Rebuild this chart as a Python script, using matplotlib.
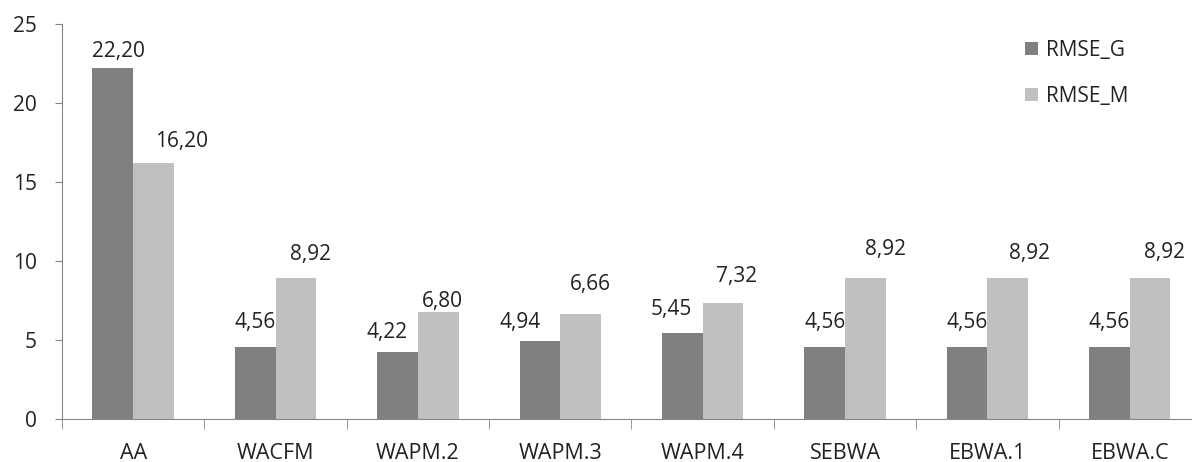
import matplotlib.pyplot as plt
import numpy as np

plt.rcParams['font.family'] = ['Open Sans', 'DejaVu Sans']

methods = ['AA', 'WACFM', 'WAPM.2', 'WAPM.3', 'WAPM.4', 'SEBWA', 'EBWA.1', 'EBWA.C']
rmse_g = [22.20, 4.56, 4.22, 4.94, 5.45, 4.56, 4.56, 4.56]
rmse_m = [16.20, 8.92, 6.80, 6.66, 7.32, 8.92, 8.92, 8.92]

# hand-placed label nudges (pixels): sideways shift and gap above bar
nudge_g = [(6, 11), (0, 19), (-11, 14), (-20, 13), (-11, 18), (0, 19), (0, 19), (0, 19)]
nudge_m = [(28, 16), (15, 18), (4, 5), (10, 24), (14, 21), (20, 23), (22, 19), (14, 20)]

fig = plt.figure(figsize=(11.92, 4.62), dpi=100)
ax = fig.add_axes([0.052, 0.093, 0.9555, 0.855])

x = np.arange(len(methods))
w = 1 / 3.5
b1 = ax.bar(x - w / 2, rmse_g, w, color='#808080', label='RMSE_G')
b2 = ax.bar(x + w / 2, rmse_m, w, color='#c0c0c0', label='RMSE_M')

def fmt(v):
    return f'{v:.2f}'.replace('.', ',')

for bars, vals, nudge in ((b1, rmse_g, nudge_g), (b2, rmse_m, nudge_m)):
    for r, v, (dx, dy) in zip(bars, vals, nudge):
        ax.annotate(fmt(v), (r.get_x() + r.get_width() / 2, v),
                    xytext=(dx, dy), textcoords='offset pixels',
                    ha='center', va='baseline', fontsize=15, color='#222222')

ax.set_xlim(-0.5, len(methods) - 0.5)
ax.set_ylim(0, 25)
ax.set_yticks(range(0, 26, 5))
ax.tick_params(axis='y', labelsize=15, length=5, color='#868686', pad=13,
               labelcolor='#222222')
ax.set_xticks(x)
ax.set_xticklabels(methods)
ax.tick_params(axis='x', which='major', length=0, labelsize=15.5, pad=17,
               labelcolor='#222222')
ax.set_xticks(np.arange(-0.5, len(methods), 1), minor=True)
ax.tick_params(axis='x', which='minor', length=7, color='#868686')

for s in ('top', 'right'):
    ax.spines[s].set_visible(False)
for s in ('left', 'bottom'):
    ax.spines[s].set_color('#868686')

leg = ax.legend(loc='upper left', bbox_to_anchor=(0.8455, 0.96), frameon=False,
                fontsize=15, handlelength=0.63, handleheight=0.63,
                labelspacing=1.2, handletextpad=0.4, borderpad=0,
                borderaxespad=0)
for t in leg.get_texts():
    t.set_color('#222222')

fig.savefig('out.png', dpi=100)
